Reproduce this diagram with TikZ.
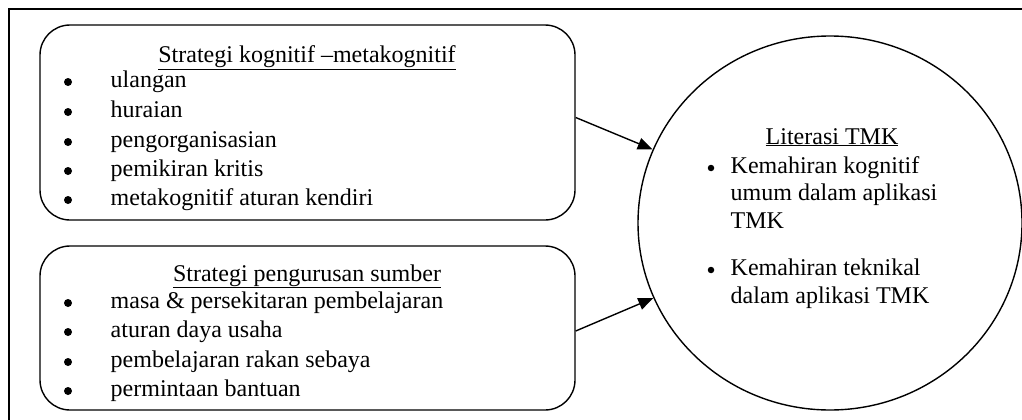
\documentclass[tikz,border=0pt]{standalone}
\usepackage{fontspec}
\setmainfont{Liberation Serif}
\usetikzlibrary{shapes.geometric,arrows.meta}
\begin{document}
\begin{tikzpicture}[x=1pt,y=-1pt,
  line width=1.4pt,
  txt/.style={inner sep=0pt,anchor=base west,font=\fontsize{24}{28}\selectfont},
  ttl/.style={inner sep=0pt,anchor=base,font=\fontsize{24}{28}\selectfont},
  bul/.style={circle,fill,inner sep=0pt,minimum size=#1},
  rbox/.style={draw,rounded corners=30pt,minimum width=535pt,minimum height=#1,inner sep=0pt},
  arr/.style={-{Triangle[length=15pt,width=12pt]},line width=1.4pt}]
\useasboundingbox (0,0) rectangle (1022,420);
\draw (1022,9) -- (9,9) -- (9,420);
% boxes
\node[rbox=195pt] (b1) at (307.5,122.5) {};
\node[rbox=164pt] (b2) at (307.5,328) {};
\node[draw,ellipse,minimum width=384pt,minimum height=374pt,inner sep=0pt] (c) at (830,223) {};
% box 1 text
\node[ttl] (t1) at (307,63) {\underline{Strategi kognitif –metakognitif}};
\foreach \y/\t [count=\i] in {87/ulangan,117/huraian,147/pengorganisasian,176/pemikiran kritis,205/metakognitif aturan kendiri}{
  \node[bul=8pt] (ba\i) at (68,\y-5) {};
  \node[txt] (ia\i) at (110,\y) {\t};
}
% box 2 text
\node[ttl] (t2) at (307,281) {\underline{Strategi pengurusan sumber}};
\foreach \y/\t [count=\i] in {308/masa \& persekitaran pembelajaran,337/aturan daya usaha,367/pembelajaran rakan sebaya,396/permintaan bantuan}{
  \node[bul=8pt] (bb\i) at (68,\y-5) {};
  \node[txt] (ib\i) at (110,\y) {\t};
}
% circle text
\node[ttl] (t3) at (832,144) {\underline{Literasi TMK}};
\node[bul=6.5pt] (bc1) at (711,168) {};
\node[txt] (c1) at (730,173) {Kemahiran kognitif};
\node[txt] (c2) at (730,200) {umum dalam aplikasi};
\node[txt] (c3) at (730,228) {TMK};
\node[bul=6.5pt] (bc2) at (711,270) {};
\node[txt] (c4) at (730,275) {Kemahiran teknikal};
\node[txt] (c5) at (730,303) {dalam aplikasi TMK};
% arrows
\draw[arr] ([yshift=5pt]b1.east) -- (c);
\draw[arr] ([yshift=-3pt]b2.east) -- (c);
\end{tikzpicture}
\end{document}
